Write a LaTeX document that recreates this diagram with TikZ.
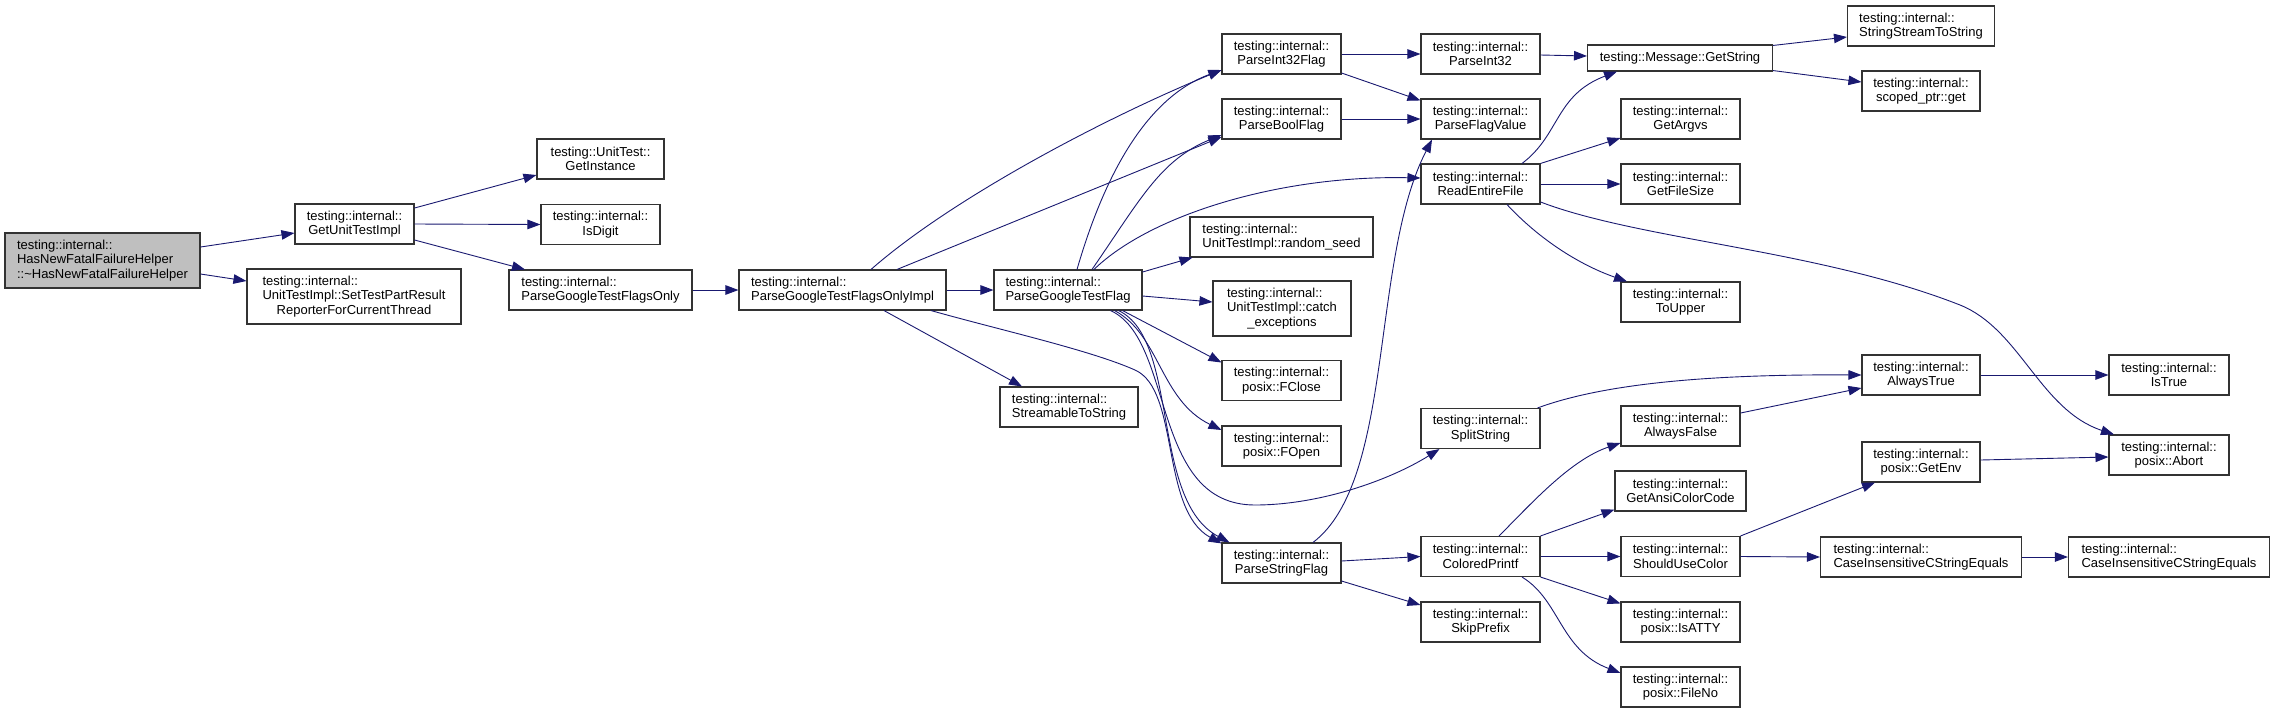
\documentclass[tikz,border=0pt]{standalone}
\usepackage{fontspec}
\setmainfont{Liberation Sans}
\usepackage{tikz}
\usetikzlibrary{arrows.meta}
\definecolor{edgeblue}{HTML}{191970}
\definecolor{rootgray}{HTML}{BFBFBF}
\definecolor{boxline}{HTML}{333333}
\tikzset{
  fn/.style      = {draw=boxline,line width=1.1pt,fill=white,align=center,
                     inner xsep=4pt,inner ysep=2pt,minimum width=119pt,
                     minimum height=40pt},
  fnroot/.style  = {fn,fill=rootgray,align=left},
  fnthree/.style = {fn,minimum height=55pt},
  call/.style    = {-{Triangle[length=13pt,width=9.5pt]},line width=0.9pt,
                     draw=edgeblue},
}
% first line left, rest centred
\newcommand{\leftfirst}[2]{\rlap{#1}\phantom{#2}\\#2}

\begin{document}
\begin{tikzpicture}[x=1pt,y=-1pt,font=\fontsize{13}{14.5}\selectfont]
  \useasboundingbox (0,0) rectangle (2275,713);
  % column 1--3
  \node[fnroot,minimum width=195pt,minimum height=55pt] (root) at (102.5,260.5)
    {testing::internal::\\HasNewFatalFailureHelper\\::\textasciitilde HasNewFatalFailureHelper};
  \node[fn] (gutil) at (354.5,224) {testing::internal::\\GetUnitTestImpl};
  \node[fnthree,minimum width=214pt] (settpr) at (354,296.5)
    {\leftfirst{testing::internal::}{UnitTestImpl::SetTestPartResult}\\ReporterForCurrentThread};
  \node[fn,minimum width=127pt] (getinst) at (600.5,159) {testing::UnitTest::\\GetInstance};
  \node[fn] (isdigit) at (600.5,224.5) {testing::internal::\\IsDigit};
  \node[fn,minimum width=183pt] (pgtfo) at (600.5,290)
    {\leftfirst{testing::internal::}{ParseGoogleTestFlagsOnly}};
  % column 4--5
  \node[fn,minimum width=207pt] (pgtfoi) at (842.5,290)
    {\leftfirst{testing::internal::}{ParseGoogleTestFlagsOnlyImpl}};
  \node[fn,minimum width=148pt] (pgtf) at (1068,290)
    {\leftfirst{testing::internal::}{ParseGoogleTestFlag}};
  \node[fn,minimum width=138pt] (strtostr) at (1069,407)
    {\leftfirst{testing::internal::}{StreamableToString}};
  % column 6
  \node[fn] (pi32flag) at (1281.5,54) {testing::internal::\\ParseInt32Flag};
  \node[fn] (pboolflag) at (1281.5,119) {testing::internal::\\ParseBoolFlag};
  \node[fn,minimum width=183pt] (randseed) at (1281.5,237)
    {\leftfirst{testing::internal::}{UnitTestImpl::random\_seed}};
  \node[fnthree,minimum width=138pt] (catchexc) at (1282,308.5)
    {\leftfirst{testing::internal::}{UnitTestImpl::catch}\\\_exceptions};
  \node[fn] (fclose) at (1281.5,380.5) {testing::internal::\\posix::FClose};
  \node[fn] (fopen) at (1281.5,446) {testing::internal::\\posix::FOpen};
  \node[fn] (pstrflag) at (1281.5,563) {testing::internal::\\ParseStringFlag};
  % column 7
  \node[fn] (pi32) at (1480.5,54) {testing::internal::\\ParseInt32};
  \node[fn] (pflagval) at (1480.5,119) {testing::internal::\\ParseFlagValue};
  \node[fn] (readfile) at (1480.5,184) {testing::internal::\\ReadEntireFile};
  \node[fn] (splitstr) at (1480.5,428.5) {testing::internal::\\SplitString};
  \node[fn] (colprintf) at (1480.5,556.5) {testing::internal::\\ColoredPrintf};
  \node[fn] (skipprefix) at (1480.5,622) {testing::internal::\\SkipPrefix};
  % column 8
  \node[fn,minimum width=185pt,minimum height=26pt] (getstring) at (1680,58)
    {testing::Message::GetString};
  \node[fn] (getargvs) at (1680.5,119) {testing::internal::\\GetArgvs};
  \node[fn] (getfilesize) at (1680.5,184) {testing::internal::\\GetFileSize};
  \node[fn] (toupper) at (1680.5,302) {testing::internal::\\ToUpper};
  \node[fn] (alwaysfalse) at (1680.5,426) {testing::internal::\\AlwaysFalse};
  \node[fn,minimum width=131pt] (ansicolor) at (1680.5,491) {testing::internal::\\GetAnsiColorCode};
  \node[fn] (shouldcolor) at (1680.5,556.5) {testing::internal::\\ShouldUseColor};
  \node[fn] (isatty) at (1680.5,622) {testing::internal::\\posix::IsATTY};
  \node[fn] (fileno) at (1680.5,687) {testing::internal::\\posix::FileNo};
  % column 9--10
  \node[fn,minimum width=147pt] (sstostr) at (1921,26)
    {\leftfirst{testing::internal::}{StringStreamToString}};
  \node[fn,minimum width=118pt] (scopedget) at (1921,91) {testing::internal::\\scoped\_ptr::get};
  \node[fn,minimum width=118pt] (alwaystrue) at (1921,375) {testing::internal::\\AlwaysTrue};
  \node[fn,minimum width=118pt] (getenv) at (1921,462) {testing::internal::\\posix::GetEnv};
  \node[fn,minimum width=201pt] (cis1) at (1921,557)
    {\leftfirst{testing::internal::}{CaseInsensitiveCStringEquals}};
  \node[fn,minimum width=120pt] (istrue) at (2169,375) {testing::internal::\\IsTrue};
  \node[fn,minimum width=120pt] (abort) at (2169,455) {testing::internal::\\posix::Abort};
  \node[fn,minimum width=201pt] (cis2) at (2169,557)
    {\leftfirst{testing::internal::}{CaseInsensitiveCStringEquals}};

  % calls
  \draw[call] ([yshift=13.5pt]root.east) -- ([yshift=-9pt]gutil.west);
  \draw[call] ([yshift=-13.5pt]root.east) -- ([yshift=15.5pt]settpr.west);
  \draw[call] ([yshift=16pt]gutil.east) -- ([yshift=-16pt]getinst.west);
  \draw[call] (gutil.east) -- (isdigit.west);
  \draw[call] ([yshift=-16pt]gutil.east) -- ([xshift=-75.5pt]pgtfo.north);
  \draw[call] (pgtfo.east) -- (pgtfoi.west);
  \draw[call] (pgtfoi.east) -- (pgtf.west);
  \draw[call] ([xshift=28.5pt]pgtfoi.north) .. controls (950,200) and (1100,120) .. ([yshift=-16pt]pi32flag.west);
  \draw[call] ([xshift=54.5pt]pgtfoi.north) -- ([yshift=-18pt]pboolflag.west);
  \draw[call] ([xshift=41.5pt]pgtfoi.south) -- ([xshift=-47pt]strtostr.north);
  \draw[call] ([xshift=88.5pt]pgtfoi.south) .. controls (1000,330) and (1090,350) .. (1135,370)
    .. controls (1180,390) and (1160,510) .. ([yshift=-1pt]pstrflag.north west);
  \draw[call] ([xshift=9pt]pgtf.north) .. controls (1100,190) and (1140,100) .. ([yshift=-16pt]pi32flag.west);
  \draw[call] ([xshift=24pt]pgtf.north) .. controls (1140,200) and (1160,160) .. ([yshift=-16pt]pboolflag.west);
  \draw[call] ([xshift=26pt]pgtf.north) .. controls (1150,215) and (1280,175) .. ([yshift=6pt]readfile.west);
  \draw[call] ([yshift=18pt]pgtf.east) -- ([xshift=3pt]randseed.south west);
  \draw[call] ([yshift=-6pt]pgtf.east) -- ([yshift=6.5pt]catchexc.west);
  \draw[call] ([xshift=-20pt]pgtf.south east) -- ([yshift=18pt]fclose.west);
  \draw[call] ([xshift=-28pt]pgtf.south east) .. controls (1160,335) and (1160,400) .. ([yshift=16pt]fopen.west);
  \draw[call] ([xshift=-32pt]pgtf.south east) .. controls (1175,340) and (1150,505) .. (1255,505)
    .. controls (1320,505) and (1390,480) .. ([xshift=-41pt]splitstr.south);
  \draw[call] ([xshift=-24pt]pgtf.south east) .. controls (1180,340) and (1150,500) .. ([xshift=8pt]pstrflag.north west);
  \draw[call] (pi32flag.east) -- (pi32.west);
  \draw[call] ([yshift=-19pt]pi32flag.east) -- ([yshift=-2pt]pflagval.north west);
  \draw[call] (pboolflag.east) -- (pflagval.west);
  \draw[call] ([xshift=31.5pt]pstrflag.north) .. controls (1395,480) and (1370,260) .. ([xshift=-48.5pt]pflagval.south);
  \draw[call] ([yshift=2pt]pstrflag.east) -- (colprintf.west);
  \draw[call] ([yshift=-18pt]pstrflag.east) -- ([yshift=17pt]skipprefix.west);
  \draw[call] ([yshift=-1pt]pi32.east) -- ([yshift=2pt]getstring.west);
  \draw[call] ([xshift=41.5pt]readfile.north) .. controls (1560,135) and (1555,95) .. ([xshift=-63pt]getstring.south);
  \draw[call] (readfile.north east) -- ([yshift=-19pt]getargvs.west);
  \draw[call] (readfile.east) -- (getfilesize.west);
  \draw[call] ([xshift=26.5pt]readfile.south) .. controls (1540,240) and (1580,265) .. ([xshift=-53.5pt]toupper.north);
  \draw[call] ([yshift=-18pt]readfile.east) .. controls (1640,240) and (1820,250) .. (1960,305)
    .. controls (2020,329) and (2040,410) .. ([xshift=-55pt]abort.north);
  \draw[call] ([yshift=-1pt]getstring.north east) -- ([yshift=-11pt]sstostr.west);
  \draw[call] ([yshift=1pt]getstring.south east) -- ([yshift=9pt]scopedget.west);
  \draw[call] ([xshift=-3pt]splitstr.north east) .. controls (1600,385) and (1700,374) .. (alwaystrue.west);
  \draw[call] ([xshift=18.5pt]colprintf.north) .. controls (1530,505) and (1570,460) .. ([yshift=-17pt]alwaysfalse.west);
  \draw[call] (colprintf.north east) -- ([yshift=2pt]ansicolor.south west);
  \draw[call] (colprintf.east) -- (shouldcolor.west);
  \draw[call] (colprintf.south east) -- ([yshift=-2pt]isatty.north west);
  \draw[call] ([xshift=41.5pt]colprintf.south) .. controls (1560,600) and (1560,650) .. ([yshift=14pt]fileno.west);
  \draw[call] ([yshift=13pt]alwaysfalse.east) -- ([yshift=-13pt]alwaystrue.west);
  \draw[call] (alwaystrue.east) -- (istrue.west);
  \draw[call] (shouldcolor.north east) -- ([xshift=-46pt]getenv.south);
  \draw[call] (shouldcolor.east) -- (cis1.west);
  \draw[call] ([yshift=2pt]getenv.east) -- ([yshift=-2pt]abort.west);
  \draw[call] (cis1.east) -- (cis2.west);
\end{tikzpicture}
\end{document}
